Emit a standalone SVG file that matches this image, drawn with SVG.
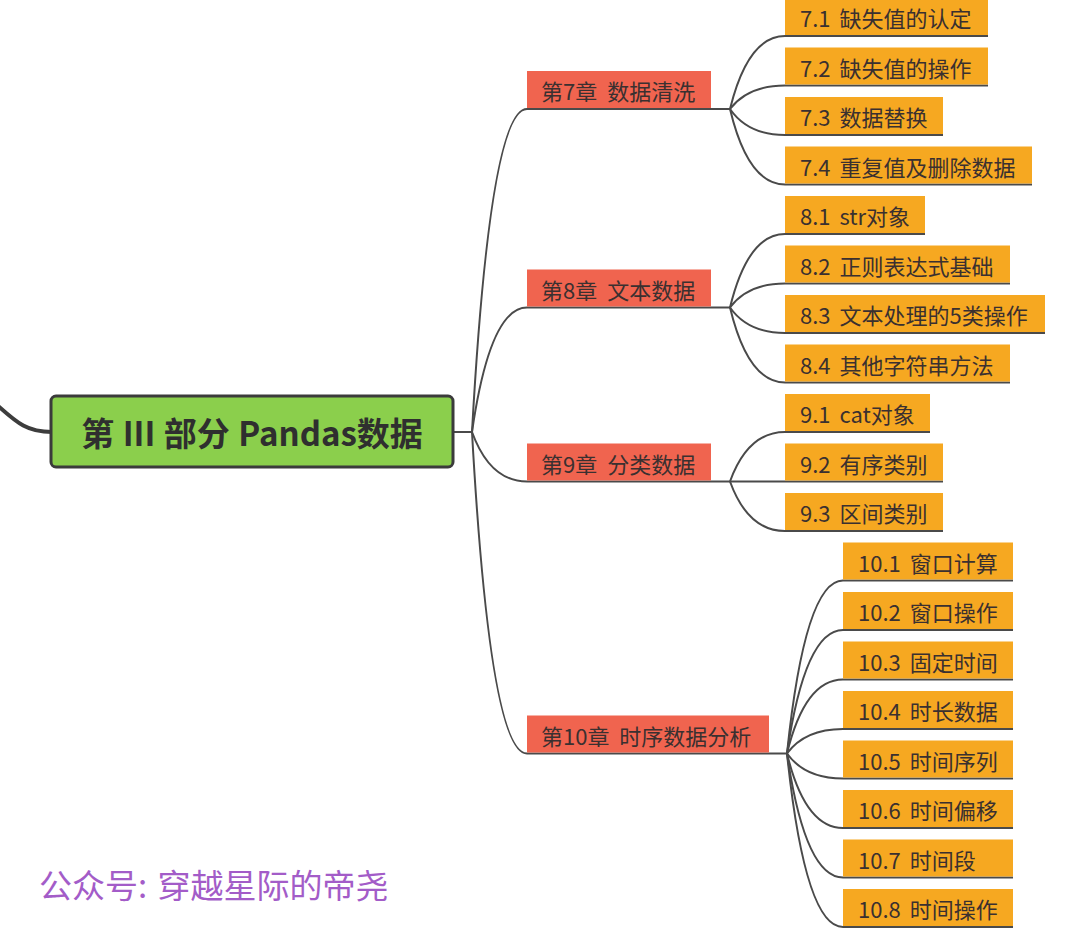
<svg xmlns="http://www.w3.org/2000/svg" width="1080" height="935" viewBox="0 0 1080 935">
<style>
text{font-family:"Noto Sans CJK SC","Noto Sans",sans-serif;fill:#3a3030;dominant-baseline:central}
.root rect{fill:#8BCF4C;stroke:#3b3b3b;stroke-width:3}
.root text{font-size:33px;font-weight:700;text-anchor:middle;fill:#2f2f2f;word-spacing:1px}
.ch rect{fill:#F0644F}
.ch text{font-size:22px;word-spacing:5px}
.leaf rect{fill:#F6A821}
.leaf text{font-size:22px;word-spacing:4px}
.conn path{fill:none;stroke:#4a4a4a;stroke-width:2}
.wm{font-size:33px;fill:#A35CC8;word-spacing:3px}
</style>
<rect width="1080" height="935" fill="#ffffff"/>
<g id="connectors" class="conn">
<path d="M-4,404 C18,424 28,432 52,432" style="stroke-width:4;stroke:#3d3d3d"/>
<path d="M453,432 L472,432"/>
<path d="M472,432 Q490,109 527,109 L730,109"/>
<path d="M472,432 Q490,307.5 527,307.5 L730,307.5"/>
<path d="M472,432 Q490,481.5 527,481.5 L730,481.5"/>
<path d="M472,432 Q490,753.5 527,753.5 L787,753.5"/>
<path d="M730,109 Q748,36 785,36 L988,36"/>
<path d="M730,109 Q748,85.5 785,85.5 L988,85.5"/>
<path d="M730,109 Q748,135 785,135 L943,135"/>
<path d="M730,109 Q748,184.5 785,184.5 L1032,184.5"/>
<path d="M730,307.5 Q748,234 785,234 L925,234"/>
<path d="M730,307.5 Q748,283.5 785,283.5 L1010,283.5"/>
<path d="M730,307.5 Q748,333 785,333 L1045,333"/>
<path d="M730,307.5 Q748,382.5 785,382.5 L1010,382.5"/>
<path d="M730,481.5 Q748,432 785,432 L930,432"/>
<path d="M730,481.5 L943,481.5"/>
<path d="M730,481.5 Q748,531 785,531 L943,531"/>
<path d="M787,753.5 Q805,580.5 843,580.5 L1013,580.5"/>
<path d="M787,753.5 Q805,630 843,630 L1013,630"/>
<path d="M787,753.5 Q805,679.5 843,679.5 L1013,679.5"/>
<path d="M787,753.5 Q805,729 843,729 L1013,729"/>
<path d="M787,753.5 Q805,778.5 843,778.5 L1013,778.5"/>
<path d="M787,753.5 Q805,828 843,828 L1013,828"/>
<path d="M787,753.5 Q805,877.5 843,877.5 L1013,877.5"/>
<path d="M787,753.5 Q805,927 843,927 L1013,927"/>
</g>
<g id="root" class="root"><rect x="51" y="396" width="402" height="71" rx="5"/><text x="252" y="432">第 III 部分 Pandas数据</text></g>
<g id="ch7" class="ch"><rect x="527" y="71" width="184" height="37"/><text x="541" y="90">第7章 数据清洗</text></g>
<g id="ch8" class="ch"><rect x="527" y="269.5" width="184" height="37"/><text x="541" y="288.5">第8章 文本数据</text></g>
<g id="ch9" class="ch"><rect x="527" y="443.5" width="184" height="37"/><text x="541" y="462.5">第9章 分类数据</text></g>
<g id="ch10" class="ch"><rect x="527" y="715.5" width="242" height="37"/><text x="541" y="734.5">第10章 时序数据分析</text></g>
<g id="n7-1" class="leaf"><rect x="785" y="-2" width="203" height="37"/><text x="800" y="17">7.1 缺失值的认定</text></g>
<g id="n7-2" class="leaf"><rect x="785" y="47.5" width="203" height="37"/><text x="800" y="66.5">7.2 缺失值的操作</text></g>
<g id="n7-3" class="leaf"><rect x="785" y="97" width="158" height="37"/><text x="800" y="116">7.3 数据替换</text></g>
<g id="n7-4" class="leaf"><rect x="785" y="146.5" width="247" height="37"/><text x="800" y="165.5">7.4 重复值及删除数据</text></g>
<g id="n8-1" class="leaf"><rect x="785" y="196" width="140" height="37"/><text x="800" y="215">8.1 str对象</text></g>
<g id="n8-2" class="leaf"><rect x="785" y="245.5" width="225" height="37"/><text x="800" y="264.5">8.2 正则表达式基础</text></g>
<g id="n8-3" class="leaf"><rect x="785" y="295" width="260" height="37"/><text x="800" y="314">8.3 文本处理的5类操作</text></g>
<g id="n8-4" class="leaf"><rect x="785" y="344.5" width="225" height="37"/><text x="800" y="363.5">8.4 其他字符串方法</text></g>
<g id="n9-1" class="leaf"><rect x="785" y="394" width="145" height="37"/><text x="800" y="413">9.1 cat对象</text></g>
<g id="n9-2" class="leaf"><rect x="785" y="443.5" width="158" height="37"/><text x="800" y="462.5">9.2 有序类别</text></g>
<g id="n9-3" class="leaf"><rect x="785" y="493" width="158" height="37"/><text x="800" y="512">9.3 区间类别</text></g>
<g id="n10-1" class="leaf"><rect x="843" y="542.5" width="170" height="37"/><text x="858" y="561.5">10.1 窗口计算</text></g>
<g id="n10-2" class="leaf"><rect x="843" y="592" width="170" height="37"/><text x="858" y="611">10.2 窗口操作</text></g>
<g id="n10-3" class="leaf"><rect x="843" y="641.5" width="170" height="37"/><text x="858" y="660.5">10.3 固定时间</text></g>
<g id="n10-4" class="leaf"><rect x="843" y="691" width="170" height="37"/><text x="858" y="710">10.4 时长数据</text></g>
<g id="n10-5" class="leaf"><rect x="843" y="740.5" width="170" height="37"/><text x="858" y="759.5">10.5 时间序列</text></g>
<g id="n10-6" class="leaf"><rect x="843" y="790" width="170" height="37"/><text x="858" y="809">10.6 时间偏移</text></g>
<g id="n10-7" class="leaf"><rect x="843" y="839.5" width="170" height="37"/><text x="858" y="858.5">10.7 时间段</text></g>
<g id="n10-8" class="leaf"><rect x="843" y="889" width="170" height="37"/><text x="858" y="908">10.8 时间操作</text></g>
<text class="wm" x="39" y="884">公众号: 穿越星际的帝尧</text>
</svg>
